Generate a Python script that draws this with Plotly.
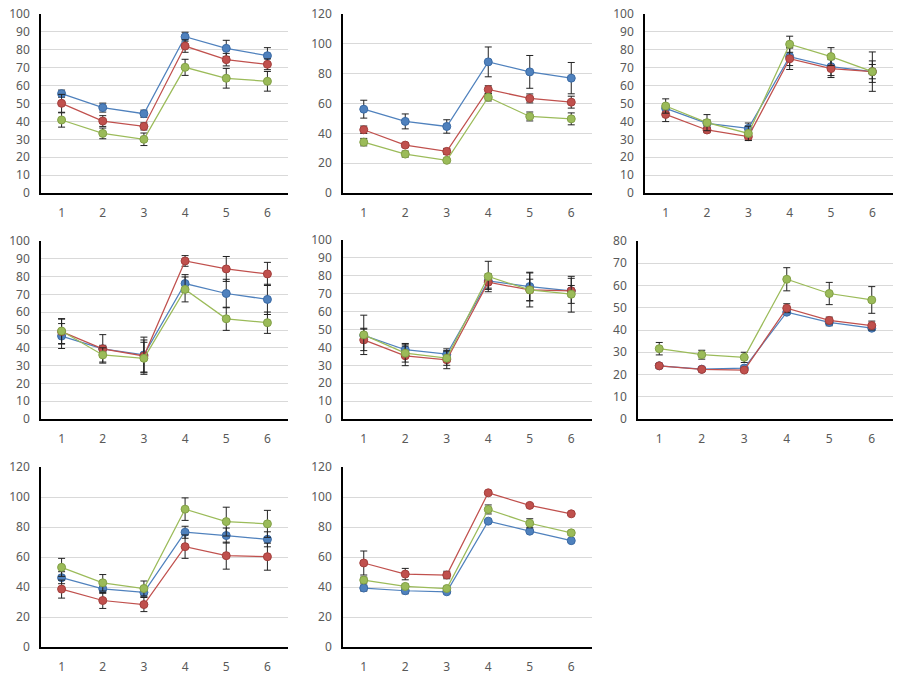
import plotly.graph_objects as go

x_vals = [1, 2, 3, 4, 5, 6]

# panel data: blue, red, green means and errors
blue_1 = [55.5, 47.7, 44.3, 87.3, 80.8, 76.7]
red_1 = [50.1, 40.2, 37.2, 82.1, 74.5, 71.9]
green_1 = [40.8, 33.3, 30.0, 70.2, 64.1, 62.4]
blue_err_1 = [2, 2.5, 2, 2.5, 4.5, 4.5]
red_err_1 = [5, 3, 2, 3.5, 3.5, 3]
green_err_1 = [4, 3, 3.5, 4.5, 5.5, 5.5]

blue_2 = [56.2, 48.0, 44.6, 87.9, 81.2, 77.0]
red_2 = [42.4, 32.1, 27.9, 69.4, 63.4, 60.9]
green_2 = [34.1, 26.1, 21.9, 64.2, 51.3, 49.7]
blue_err_2 = [6, 5, 4.5, 10, 11, 10.5]
red_err_2 = [2.5, 1.5, 2, 2.5, 3, 4]
green_err_2 = [2.5, 2, 1, 2.5, 3, 4]

blue_3 = [47.3, 38.9, 36.1, 76.2, 70.6, 67.8]
red_3 = [43.9, 35.2, 31.5, 75.0, 69.5, 67.8]
green_3 = [48.6, 39.3, 33.3, 83.1, 76.2, 67.8]
blue_err_3 = [2, 2, 3, 5, 5, 6]
red_err_3 = [4, 1.5, 2, 6, 5, 4]
green_err_3 = [4, 4.5, 4, 4.5, 5, 11]

blue_4 = [46.6, 39.4, 36.0, 76.1, 70.5, 67.2]
red_4 = [49.1, 39.4, 35.4, 88.8, 84.3, 81.5]
green_4 = [49.4, 36.0, 34.1, 72.8, 56.3, 54.1]
blue_err_4 = [7, 2, 10, 5, 8, 8.5]
red_err_4 = [7, 8, 9, 3, 7, 6.5]
green_err_4 = [7, 4, 9, 7, 6.5, 6]

blue_5 = [46.7, 38.7, 36.2, 77.1, 74.0, 71.6]
red_5 = [44.2, 35.3, 33.1, 76.4, 72.1, 71.6]
green_5 = [47.0, 36.8, 34.0, 79.6, 72.1, 69.7]
blue_err_5 = [4, 3.5, 3, 4, 8, 3]
red_err_5 = [6, 5.5, 5, 4, 9.5, 7]
green_err_5 = [11, 5, 4, 8.5, 6, 10]

blue_6 = [23.9, 22.4, 22.9, 48.0, 43.4, 40.8]
red_6 = [23.9, 22.3, 22.0, 49.8, 44.3, 42.0]
green_6 = [31.6, 28.9, 27.7, 62.8, 56.4, 53.5]
blue_err_6 = [1, 0.7, 1, 1, 1.5, 1]
red_err_6 = [1, 0.7, 0.8, 2, 1.5, 2]
green_err_6 = [2.8, 2, 2.3, 5.2, 5, 6]

blue_7 = [46.2, 38.8, 36.4, 76.5, 74.3, 71.8]
red_7 = [38.6, 31.0, 28.3, 66.9, 60.9, 60.2]
green_7 = [53.1, 42.8, 39.0, 91.9, 83.6, 82.1]
blue_err_7 = [4, 3, 3, 4, 5, 5]
red_err_7 = [6, 5.3, 4.7, 7.8, 9, 9]
green_err_7 = [6, 5.5, 5, 7.5, 9.6, 9]

blue_8 = [39.3, 37.5, 36.8, 83.9, 77.2, 70.9]
red_8 = [56.0, 48.6, 48.0, 102.8, 94.4, 88.8]
green_8 = [44.6, 40.4, 39.0, 91.7, 82.5, 76.1]
blue_err_8 = [2, 2, 1, 1, 1, 1]
red_err_8 = [8, 3.8, 2.5, 1, 1, 1]
green_err_8 = [2, 1.5, 1, 3, 3, 1.5]

y_max = [100, 120, 100, 100, 100, 80, 120, 120]
y_step = [10, 20, 10, 10, 10, 10, 20, 20]

panels = [
    (blue_1, red_1, green_1, blue_err_1, red_err_1, green_err_1),
    (blue_2, red_2, green_2, blue_err_2, red_err_2, green_err_2),
    (blue_3, red_3, green_3, blue_err_3, red_err_3, green_err_3),
    (blue_4, red_4, green_4, blue_err_4, red_err_4, green_err_4),
    (blue_5, red_5, green_5, blue_err_5, red_err_5, green_err_5),
    (blue_6, red_6, green_6, blue_err_6, red_err_6, green_err_6),
    (blue_7, red_7, green_7, blue_err_7, red_err_7, green_err_7),
    (blue_8, red_8, green_8, blue_err_8, red_err_8, green_err_8),
]

# plot-area boxes in screen pixels: left, right, top, bottom
W, H = 907, 680
boxes = [
    (41, 288, 14, 193), (343, 592, 14, 193), (645, 893, 14, 193),
    (41, 288, 241, 419), (343, 592, 240, 419), (638, 893, 241, 419),
    (41, 288, 467, 647), (343, 592, 467, 647),
]

colors = ["#4F81BD", "#C0504D", "#9BBB59"]
edges = ["#3A6AA5", "#A33F3C", "#82A046"]

fig = go.Figure()
layout = {}
for i, (p, box) in enumerate(zip(panels, boxes)):
    n = i + 1
    xa = "x" if n == 1 else f"x{n}"
    ya = "y" if n == 1 else f"y{n}"
    means = p[:3]
    errs = p[3:]
    for s in range(3):
        fig.add_trace(go.Scatter(
            x=x_vals, y=means[s], xaxis=xa, yaxis=ya, mode="lines+markers",
            line=dict(color=colors[s], width=1.25),
            marker=dict(size=8, color=colors[s], line=dict(color=edges[s], width=1)),
            error_y=dict(type="data", array=errs[s], visible=True, color="#222222",
                         thickness=1, width=3.5),
            showlegend=False, hoverinfo="skip",
        ))
    l, r, t, b = box
    layout[f"xaxis{'' if n == 1 else n}"] = dict(
        domain=[l / W, r / W], anchor=ya, range=[0.5, 6.5], automargin=False,
        tickvals=x_vals, ticktext=[str(v) for v in x_vals],
        showgrid=False, zeroline=False, showline=True, linecolor="#000000", linewidth=1.5,
        ticks="", ticklabelstandoff=8, ticklabeloverflow="allow",
        tickfont=dict(family="Noto Sans", size=12, color="#595959"),
    )
    layout[f"yaxis{'' if n == 1 else n}"] = dict(
        domain=[1 - b / H, 1 - t / H], anchor=xa, range=[0, y_max[i]], automargin=False,
        dtick=y_step[i], tick0=0,
        showgrid=True, gridcolor="#D9D9D9", gridwidth=1, zeroline=False,
        showline=True, linecolor="#000000", linewidth=1.5,
        ticks="", ticklabelstandoff=7, ticklabeloverflow="allow",
        tickfont=dict(family="Noto Sans", size=12, color="#595959"),
    )

fig.update_layout(
    width=W, height=H, margin=dict(l=0, r=0, t=0, b=0),
    paper_bgcolor="white", plot_bgcolor="white", showlegend=False,
    **layout,
)
fig.write_html("out.html", config={"displayModeBar": False},
               post_script="document.body.style.margin='0';")
